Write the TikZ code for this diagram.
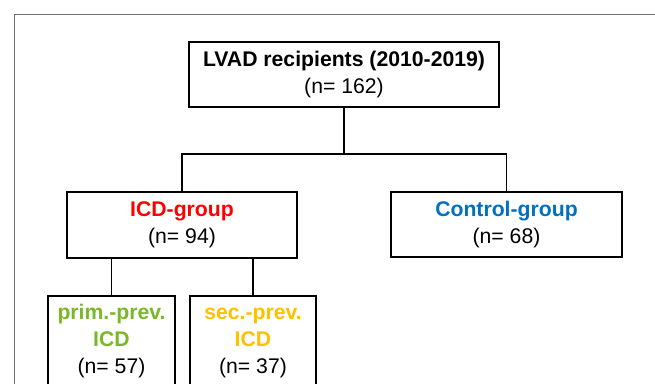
\documentclass[tikz,border=0pt]{standalone}
\usepackage{fontspec}
\setmainfont{Liberation Sans}
\definecolor{icdred}{HTML}{FF0000}
\definecolor{ctrlblue}{HTML}{0070C0}
\definecolor{primgreen}{HTML}{7AB828}
\definecolor{secgold}{HTML}{FFC000}
\definecolor{framegray}{HTML}{6E6E6E}
\tikzset{
  box/.style={draw=black, line width=2pt, align=center, inner sep=0pt,
    font=\fontsize{21.2}{27}\selectfont},
  conn/.style={draw=black, line width=1.3pt},
}
\newcommand{\firststrut}{\rule{0pt}{15.5pt}}
\begin{document}
\begin{tikzpicture}[x=1pt,y=-1pt]
\useasboundingbox (0,0) rectangle (655,383);
\clip (0,0) rectangle (655,383);
\draw[framegray, line width=1pt] (14.5,390) -- (14.5,14.5) -- (660,14.5);
\node[box, minimum width=310pt, minimum height=65pt] (top) at (344,74.5)
  {\textbf{LVAD recipients (2010-2019)}\\(n= 162)};
\node[box, minimum width=230pt, minimum height=66pt] (icd) at (182,225)
  {\textbf{\color{icdred}ICD-group}\\(n= 94)};
\node[box, minimum width=231pt, minimum height=65pt] (ctrl) at (506.5,224.5)
  {\textbf{\color{ctrlblue}Control-group}\\(n= 68)};
\node[box, anchor=north, minimum width=127pt, minimum height=90pt] (prim) at (111.5,295)
  {\firststrut\textbf{\color{primgreen}prim.-prev.}\\\textbf{\color{primgreen}ICD}\\(n= 57)};
\node[box, anchor=north, minimum width=126pt, minimum height=90pt] (sec) at (253,295)
  {\firststrut\textbf{\color{secgold}sec.-prev.}\\\textbf{\color{secgold}ICD}\\(n= 37)};
\coordinate (busL) at (182,154);
\coordinate (busR) at (506.5,154);
\draw[conn] (top.south) -- (top.south |- busL);
\draw[conn] (icd.north) -- (busL) -- (busR) -- (ctrl.north);
\draw[conn] (prim.north) -- (prim.north |- icd.south);
\draw[conn] (sec.north) -- (sec.north |- icd.south);
\end{tikzpicture}
\end{document}
